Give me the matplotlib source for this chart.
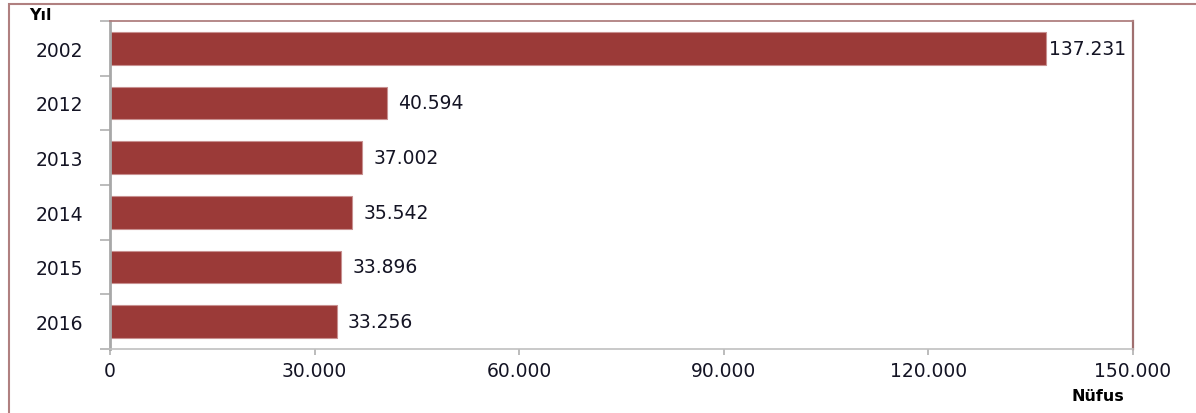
import numpy as np
import matplotlib.pyplot as plt
from matplotlib.patches import Rectangle
from matplotlib.ticker import FuncFormatter

years = ['2002', '2012', '2013', '2014', '2015', '2016']
nufus = [137231, 40594, 37002, 35542, 33896, 33256]
xticks = [0, 30000, 60000, 90000, 120000, 150000]

def tr_fmt(v):
    return f'{int(v):,}'.replace(',', '.')

plt.rcParams['font.family'] = ['DejaVu Sans']
txt_col = '#141424'
fs = 13.5
fig = plt.figure(figsize=(11.96, 4.14), dpi=100)
ax = fig.add_axes([110 / 1196, 1 - 350 / 414, (1133 - 110) / 1196, (350 - 22) / 414])

# dis cerceve
fig.patches.append(Rectangle((9 / 1196, -0.01), 1.2, 1 - 5 / 414 + 0.01, transform=fig.transFigure,
                             fill=False, edgecolor='#b08080', linewidth=1.5))

bar_col = '#9b3a38'
pos = np.arange(len(years))
ax.barh(pos, nufus, height=0.6, color=bar_col, edgecolor='#c89090', linewidth=0.8)
for p, v in zip(pos, nufus):
    # en uzun cubukta etiket cubuga yapisik
    off = 2 if v == max(nufus) else 8
    ax.annotate(tr_fmt(v), (v, p), xytext=(off, 0), textcoords='offset points',
                va='center', ha='left', fontsize=fs, color=txt_col)

ax.set_xlim(0, 150000)
ax.set_ylim(len(years) - 0.5, -0.5)
ax.set_xticks(xticks)
ax.xaxis.set_major_formatter(FuncFormatter(lambda v, _: tr_fmt(v)))
ax.tick_params(axis='x', length=4, width=1.2, color='#b0b0b0', labelsize=fs,
               labelcolor=txt_col, pad=5)

ax.set_yticks(np.arange(-0.5, len(years), 1.0))
ax.set_yticklabels([])
ax.tick_params(axis='y', which='major', length=7, width=1.2, color='#b0b0b0')
ax.set_yticks(pos, minor=True)
ax.set_yticklabels(years, minor=True)
ax.tick_params(axis='y', which='minor', length=0, pad=19, labelsize=fs, labelcolor=txt_col)

ax.spines['left'].set_color('#a8a8a8')
ax.spines['left'].set_linewidth(2)
ax.spines['bottom'].set_color('#c0c0c0')
ax.spines['bottom'].set_linewidth(1.2)
ax.spines['top'].set_color('#b08080')
ax.spines['top'].set_linewidth(1.3)
ax.spines['right'].set_color('#a07070')
ax.spines['right'].set_linewidth(1.6)

fig.text(40 / 1196, 1 - 16 / 414, 'Yıl', fontsize=11.5, fontweight='bold', va='center', ha='center')
fig.text(1098 / 1196, 1 - 397 / 414, 'Nüfus', fontsize=11.5, fontweight='bold', va='center', ha='center')

fig.savefig('out.png', dpi=100)
